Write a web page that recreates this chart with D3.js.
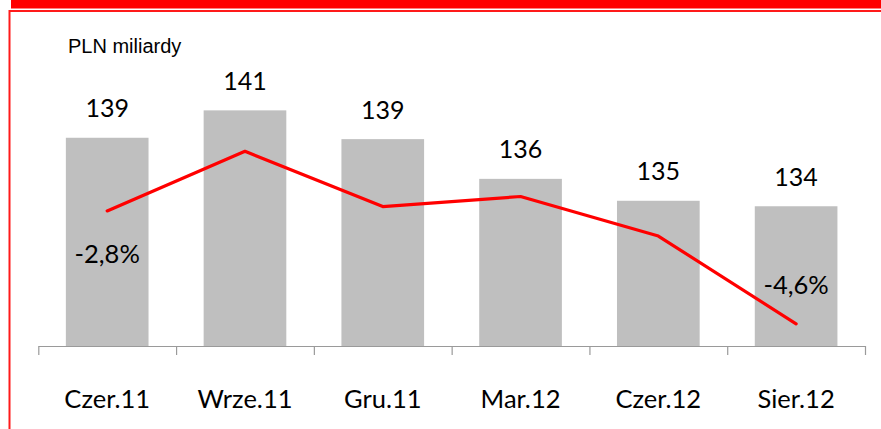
<!DOCTYPE html>
<html>
<head>
<meta charset="utf-8">
<script src="https://cdn.jsdelivr.net/npm/d3@7"></script>
<style>
  body { margin: 0; background: #fff; }
  svg { display: block; }
</style>
</head>
<body>
<svg id="chart" width="881" height="429"></svg>
<script>
// data
const categories = ["Czer.11", "Wrze.11", "Gru.11", "Mar.12", "Czer.12", "Sier.12"];
const amounts = [139.2, 141.2, 139.1, 136.2, 134.6, 134.2];   // PLN miliardy (bars)
const amountLabels = ["139", "141", "139", "136", "135", "134"];
const changes = [-2.8, -1.85, -2.73, -2.57, -3.2, -4.6];       // % (line)
const changeLabels = ["-2,8%", "", "", "", "", "-4,6%"];

const svg = d3.select("#chart");
const font = "Lato, sans-serif";

// frame
svg.append("rect")
  .attr("x", 11).attr("y", 0).attr("width", 870).attr("height", 8.5)
  .attr("fill", "#ff0000");
svg.append("rect")
  .attr("x", 9.5).attr("y", 11).attr("width", 900).attr("height", 450)
  .attr("fill", "none").attr("stroke", "#ff1a1a").attr("stroke-width", 2);

svg.append("text")
  .attr("x", 68).attr("y", 53)
  .attr("font-family", "Liberation Sans, Arial, sans-serif")
  .attr("font-size", 20)
  .attr("fill", "#000")
  .text("PLN miliardy");

const left = 38.3, right = 865, base = 346;

const x = d3.scaleBand()
  .domain(categories)
  .range([left, right])
  .paddingInner(0.4)
  .paddingOuter(0.2);

const y = d3.scaleLinear()
  .domain([124, 142])
  .range([base, base - 18 * 13.7]);

const y2 = d3.scaleLinear()
  .domain([-5, -1])
  .range([349, 98]);

// bars
svg.selectAll(".bar")
  .data(amounts)
  .join("rect")
    .attr("class", "bar")
    .attr("x", (d, i) => x(categories[i]))
    .attr("y", d => y(d))
    .attr("width", x.bandwidth())
    .attr("height", d => base - y(d))
    .attr("fill", "#bfbfbf");

// value labels
svg.selectAll(".val")
  .data(amounts)
  .join("text")
    .attr("class", "val")
    .attr("x", (d, i) => x(categories[i]) + x.bandwidth() / 2)
    .attr("y", d => y(d) - 20.5)
    .attr("text-anchor", "middle")
    .attr("font-family", font)
    .attr("font-size", 25)
    .attr("fill", "#000")
    .text((d, i) => amountLabels[i]);

// axis with ticks on band boundaries
const xb = d3.scaleLinear().domain([0, categories.length]).range([left, right]);
svg.append("g")
  .attr("transform", `translate(0,${base})`)
  .call(d3.axisBottom(xb).ticks(categories.length).tickSize(9).tickSizeOuter(0).tickFormat(""))
  .call(g => g.selectAll("path, line").attr("stroke", "#9a9a9a").attr("stroke-width", 1.2));

svg.append("g")
  .attr("transform", `translate(0,${base})`)
  .call(d3.axisBottom(x).tickSize(0).tickPadding(44))
  .call(g => g.select(".domain").remove())
  .call(g => g.selectAll("text")
    .attr("font-family", font)
    .attr("font-size", 25.5)
    .attr("fill", "#000"));

// line
const cx = (d, i) => x(categories[i]) + x.bandwidth() / 2;
svg.append("path")
  .datum(changes)
  .attr("fill", "none")
  .attr("stroke", "#ff0000")
  .attr("stroke-width", 3.2)
  .attr("stroke-linecap", "round")
  .attr("stroke-linejoin", "round")
  .attr("d", d3.line().x(cx).y(d => y2(d)));

// percentage labels (first below, last above)
svg.selectAll(".pct")
  .data(changes)
  .join("text")
    .attr("class", "pct")
    .attr("x", cx)
    .attr("y", (d, i) => i === 0 ? y2(d) + 52 : y2(d) - 30)
    .attr("text-anchor", "middle")
    .attr("font-family", font)
    .attr("font-size", 25.5)
    .attr("fill", "#000")
    .text((d, i) => changeLabels[i]);
</script>
</body>
</html>
